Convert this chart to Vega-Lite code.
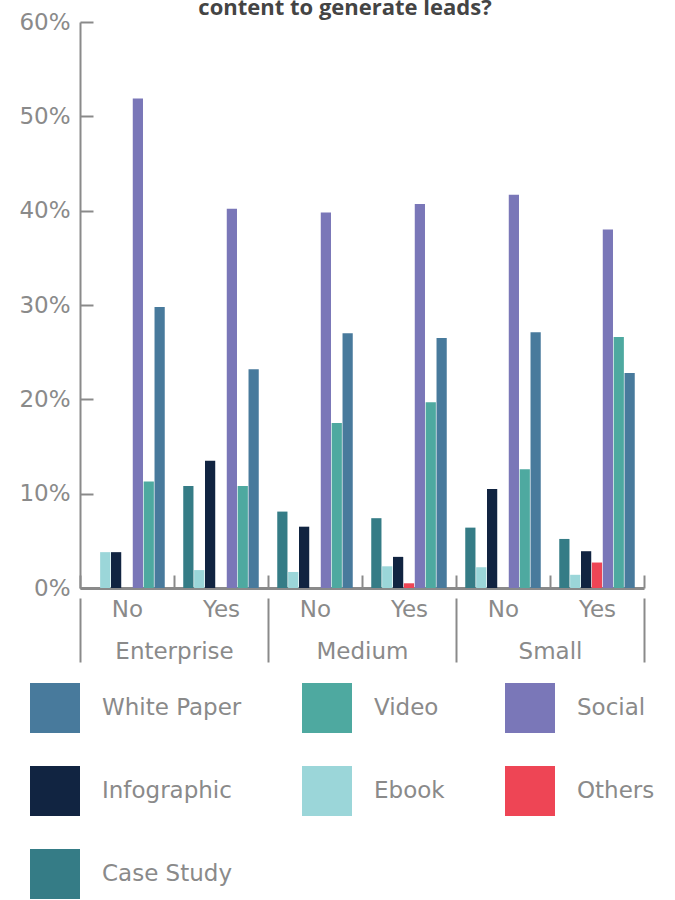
{
  "$schema": "https://vega.github.io/schema/vega-lite/v6.json",
  "autosize": "none",
  "width": 564,
  "height": 566,
  "padding": {"left": 80, "top": 22, "right": 31, "bottom": 312},
  "background": "white",
  "title": {
    "text": "content to generate leads?",
    "fontSize": 22,
    "fontWeight": "bold",
    "font": "Open Sans",
    "color": "#444444",
    "anchor": "middle",
    "frame": "group",
    "dx": -17,
    "offset": -9
  },
  "config": {
    "view": {"stroke": null},
    "font": "DejaVu Sans"
  },
  "data": {
    "values": [
      {"size": "Enterprise", "grp": "Enterprise No", "type": "Case Study", "pct": 0},
      {"size": "Enterprise", "grp": "Enterprise No", "type": "Ebook", "pct": 3.8},
      {"size": "Enterprise", "grp": "Enterprise No", "type": "Infographic", "pct": 3.8},
      {"size": "Enterprise", "grp": "Enterprise No", "type": "Others", "pct": 0},
      {"size": "Enterprise", "grp": "Enterprise No", "type": "Social", "pct": 51.9},
      {"size": "Enterprise", "grp": "Enterprise No", "type": "Video", "pct": 11.3},
      {"size": "Enterprise", "grp": "Enterprise No", "type": "White Paper", "pct": 29.8},
      {"size": "Enterprise", "grp": "Enterprise Yes", "type": "Case Study", "pct": 10.8},
      {"size": "Enterprise", "grp": "Enterprise Yes", "type": "Ebook", "pct": 1.9},
      {"size": "Enterprise", "grp": "Enterprise Yes", "type": "Infographic", "pct": 13.5},
      {"size": "Enterprise", "grp": "Enterprise Yes", "type": "Others", "pct": 0},
      {"size": "Enterprise", "grp": "Enterprise Yes", "type": "Social", "pct": 40.2},
      {"size": "Enterprise", "grp": "Enterprise Yes", "type": "Video", "pct": 10.8},
      {"size": "Enterprise", "grp": "Enterprise Yes", "type": "White Paper", "pct": 23.2},
      {"size": "Medium", "grp": "Medium No", "type": "Case Study", "pct": 8.1},
      {"size": "Medium", "grp": "Medium No", "type": "Ebook", "pct": 1.7},
      {"size": "Medium", "grp": "Medium No", "type": "Infographic", "pct": 6.5},
      {"size": "Medium", "grp": "Medium No", "type": "Others", "pct": 0},
      {"size": "Medium", "grp": "Medium No", "type": "Social", "pct": 39.8},
      {"size": "Medium", "grp": "Medium No", "type": "Video", "pct": 17.5},
      {"size": "Medium", "grp": "Medium No", "type": "White Paper", "pct": 27.0},
      {"size": "Medium", "grp": "Medium Yes", "type": "Case Study", "pct": 7.4},
      {"size": "Medium", "grp": "Medium Yes", "type": "Ebook", "pct": 2.3},
      {"size": "Medium", "grp": "Medium Yes", "type": "Infographic", "pct": 3.3},
      {"size": "Medium", "grp": "Medium Yes", "type": "Others", "pct": 0.5},
      {"size": "Medium", "grp": "Medium Yes", "type": "Social", "pct": 40.7},
      {"size": "Medium", "grp": "Medium Yes", "type": "Video", "pct": 19.7},
      {"size": "Medium", "grp": "Medium Yes", "type": "White Paper", "pct": 26.5},
      {"size": "Small", "grp": "Small No", "type": "Case Study", "pct": 6.4},
      {"size": "Small", "grp": "Small No", "type": "Ebook", "pct": 2.2},
      {"size": "Small", "grp": "Small No", "type": "Infographic", "pct": 10.5},
      {"size": "Small", "grp": "Small No", "type": "Others", "pct": 0},
      {"size": "Small", "grp": "Small No", "type": "Social", "pct": 41.7},
      {"size": "Small", "grp": "Small No", "type": "Video", "pct": 12.6},
      {"size": "Small", "grp": "Small No", "type": "White Paper", "pct": 27.1},
      {"size": "Small", "grp": "Small Yes", "type": "Case Study", "pct": 5.2},
      {"size": "Small", "grp": "Small Yes", "type": "Ebook", "pct": 1.4},
      {"size": "Small", "grp": "Small Yes", "type": "Infographic", "pct": 3.9},
      {"size": "Small", "grp": "Small Yes", "type": "Others", "pct": 2.7},
      {"size": "Small", "grp": "Small Yes", "type": "Social", "pct": 38.0},
      {"size": "Small", "grp": "Small Yes", "type": "Video", "pct": 26.6},
      {"size": "Small", "grp": "Small Yes", "type": "White Paper", "pct": 22.8}
    ]
  },
  "layer": [
    {
      "mark": {"type": "bar"},
      "encoding": {
        "x": {
          "field": "grp",
          "type": "nominal",
          "sort": null,
          "scale": {"paddingInner": 0, "paddingOuter": 0},
          "axis": {
            "title": null,
            "labelAngle": 0,
            "labelExpr": "split(datum.value, ' ')[1]",
            "labelFontSize": 23,
            "labelColor": "#8a8a8a",
            "domainColor": "#8a8a8a",
            "domainWidth": 3,
            "tickColor": "#8a8a8a",
            "tickWidth": 2,
            "tickSize": -13,
            "tickBand": "extent",
            "labelPadding": 23,
            "labelBaseline": "top"
          }
        },
        "xOffset": {
          "field": "type",
          "type": "nominal",
          "sort": ["Case Study", "Ebook", "Infographic", "Others", "Social", "Video", "White Paper"],
          "scale": {"paddingInner": 0.06, "paddingOuter": 0.85}
        },
        "y": {
          "field": "pct",
          "type": "quantitative",
          "scale": {"domain": [0, 60]},
          "axis": {
            "title": null,
            "values": [0, 10, 20, 30, 40, 50, 60],
            "labelExpr": "datum.value + '%'",
            "labelFontSize": 23,
            "labelColor": "#8a8a8a",
            "grid": false,
            "domainColor": "#8a8a8a",
            "domainWidth": 2,
            "tickColor": "#8a8a8a",
            "tickWidth": 2,
            "tickSize": -13,
            "labelPadding": 23
          }
        },
        "color": {
          "field": "type",
          "type": "nominal",
          "scale": {
            "domain": ["White Paper", "Video", "Social", "Infographic", "Ebook", "Others", "Case Study"],
            "range": ["#487a9c", "#4ea9a0", "#7a77b8", "#112441", "#9bd6d9", "#ee4555", "#357c86"]
          },
          "legend": {
            "title": null,
            "orient": "none",
            "legendX": -50,
            "legendY": 661,
            "direction": "horizontal",
            "columns": 3,
            "symbolType": "square",
            "symbolSize": 2500,
            "symbolStrokeWidth": 0,
            "symbolOpacity": 1,
            "labelFontSize": 23,
            "labelColor": "#8a8a8a",
            "labelOffset": 22,
            "columnPadding": 60,
            "rowPadding": 33,
            "labelLimit": 250
          }
        }
      }
    },
    {
      "mark": {"type": "point", "opacity": 0},
      "encoding": {
        "x": {
          "field": "size",
          "type": "nominal",
          "sort": null,
          "scale": {"paddingInner": 0, "paddingOuter": 0},
          "axis": {
            "title": null,
            "orient": "bottom",
            "offset": 10,
            "labelAngle": 0,
            "domain": false,
            "labelFontSize": 23,
            "labelColor": "#8a8a8a",
            "tickColor": "#8a8a8a",
            "tickWidth": 2,
            "tickSize": 64,
            "tickBand": "extent",
            "labelPadding": -22,
            "labelBaseline": "top"
          }
        },
        "y": {"datum": 0, "type": "quantitative"}
      }
    }
  ],
  "resolve": {"scale": {"x": "independent"}, "axis": {"x": "independent"}}
}
